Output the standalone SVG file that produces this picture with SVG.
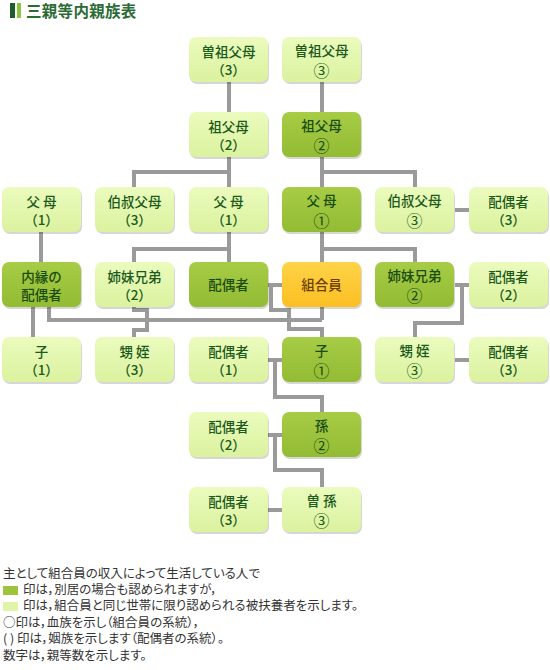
<svg xmlns="http://www.w3.org/2000/svg" width="550" height="670" viewBox="0 0 550 670">
<defs>
<linearGradient id="gl" x1="0" y1="0" x2="0" y2="1"><stop offset="0" stop-color="#ebfbbd"/><stop offset="1" stop-color="#dbf29f"/></linearGradient>
<linearGradient id="gd" x1="0" y1="0" x2="0" y2="1"><stop offset="0" stop-color="#a7cc46"/><stop offset="1" stop-color="#93bb33"/></linearGradient>
<linearGradient id="go" x1="0" y1="0" x2="0" y2="1"><stop offset="0" stop-color="#ffd349"/><stop offset="1" stop-color="#fbbf22"/></linearGradient>
<style>
.sh{fill:#000;opacity:.16}
.l .b{fill:url(#gl)}
.d .b{fill:url(#gd)}
.o .b{fill:url(#go)}
text{font-family:"Noto Sans CJK JP","Noto Sans",sans-serif;text-anchor:middle}
.n text{font-size:13.5px;font-weight:500;fill:#1d5a1d}
.d text{fill:#194d12}
.o text{fill:#6a3f00}
.n .c{font-size:16px;font-weight:normal}
#conn path{fill:none;stroke:#9a9a9a;stroke-width:4}
.lg{font-size:12.5px;fill:#333;text-anchor:start;font-feature-settings:"palt"}
</style>
</defs>
<rect width="550" height="670" fill="#fff"/>
<g id="title">
<rect x="10" y="3" width="5" height="15" fill="#1e5e2c"/>
<rect x="17" y="3" width="4" height="15" fill="#8cc63f"/>
<text x="26" y="17" style="text-anchor:start;font-size:15.5px;font-weight:bold;fill:#2b6b34;letter-spacing:0.3px">三親等内親族表</text>
</g>
<g id="conn">
<path d="M229,82V112"/>
<path d="M322,82V112"/>
<path d="M229,157V187M229,172H134V187"/>
<path d="M322,157V187M322,172H415V187"/>
<path d="M455,210H469"/>
<path d="M41,232V262"/>
<path d="M229,232V262M229,249H134V262"/>
<path d="M322,232V262M322,249H415V262"/>
<path d="M268,285H282"/>
<path d="M455,285H469M462,285V323H415V337"/>
<path d="M33,307V337"/>
<path d="M49,307V320H322M322,307V320"/>
<path d="M134,307V310H147V330H134V337"/>
<path d="M271,285V310H289V329H322V337"/>
<path d="M268,360H282M275,360V397H322V412"/>
<path d="M455,360H469"/>
<path d="M268,435H282M275,435V470H322V487"/>
<path d="M268,510H282"/>
</g>
<g id="n-sosofubo3" class="n l"><rect class="sh" x="190" y="39" width="79" height="45" rx="7"/><rect class="b" x="189" y="37" width="79" height="45" rx="7"/><text x="228.5" y="57">曽祖父母</text><text x="228.5" y="75">（3）</text></g>
<g id="n-sosofubo-3" class="n l"><rect class="sh" x="283" y="39" width="79" height="45" rx="7"/><rect class="b" x="282" y="37" width="79" height="45" rx="7"/><text x="321.5" y="56">曽祖父母</text><text class="c" x="321.5" y="77">③</text></g>
<g id="n-sofubo2" class="n l"><rect class="sh" x="190" y="114" width="79" height="45" rx="7"/><rect class="b" x="189" y="112" width="79" height="45" rx="7"/><text x="228.5" y="132">祖父母</text><text x="228.5" y="150">（2）</text></g>
<g id="n-sofubo-2" class="n d"><rect class="sh" x="283" y="114" width="79" height="45" rx="7"/><rect class="b" x="282" y="112" width="79" height="45" rx="7"/><text x="321.5" y="131">祖父母</text><text class="c" x="321.5" y="152">②</text></g>
<g id="n-fubo1a" class="n l"><rect class="sh" x="3" y="189" width="79" height="45" rx="7"/><rect class="b" x="2" y="187" width="79" height="45" rx="7"/><text x="41.5" y="207">父 母</text><text x="41.5" y="225">（1）</text></g>
<g id="n-oji3" class="n l"><rect class="sh" x="96" y="189" width="79" height="45" rx="7"/><rect class="b" x="95" y="187" width="79" height="45" rx="7"/><text x="134.5" y="207">伯叔父母</text><text x="134.5" y="225">（3）</text></g>
<g id="n-fubo1b" class="n l"><rect class="sh" x="190" y="189" width="79" height="45" rx="7"/><rect class="b" x="189" y="187" width="79" height="45" rx="7"/><text x="228.5" y="207">父 母</text><text x="228.5" y="225">（1）</text></g>
<g id="n-fubo-1" class="n d"><rect class="sh" x="283" y="189" width="79" height="45" rx="7"/><rect class="b" x="282" y="187" width="79" height="45" rx="7"/><text x="321.5" y="206">父 母</text><text class="c" x="321.5" y="227">①</text></g>
<g id="n-oji-3" class="n l"><rect class="sh" x="376" y="189" width="79" height="45" rx="7"/><rect class="b" x="375" y="187" width="79" height="45" rx="7"/><text x="414.5" y="206">伯叔父母</text><text class="c" x="414.5" y="227">③</text></g>
<g id="n-haigu3a" class="n l"><rect class="sh" x="470" y="189" width="79" height="45" rx="7"/><rect class="b" x="469" y="187" width="79" height="45" rx="7"/><text x="508.5" y="207">配偶者</text><text x="508.5" y="225">（3）</text></g>
<g id="n-naien" class="n d"><rect class="sh" x="3" y="264" width="79" height="45" rx="7"/><rect class="b" x="2" y="262" width="79" height="45" rx="7"/><text x="41.5" y="282">内縁の</text><text x="41.5" y="300">配偶者</text></g>
<g id="n-kyodai2" class="n l"><rect class="sh" x="96" y="264" width="79" height="45" rx="7"/><rect class="b" x="95" y="262" width="79" height="45" rx="7"/><text x="134.5" y="282">姉妹兄弟</text><text x="134.5" y="300">（2）</text></g>
<g id="n-haigu" class="n d"><rect class="sh" x="190" y="264" width="79" height="45" rx="7"/><rect class="b" x="189" y="262" width="79" height="45" rx="7"/><text x="228.5" y="290">配偶者</text></g>
<g id="n-kumiai" class="n o"><rect class="sh" x="283" y="264" width="79" height="45" rx="7"/><rect class="b" x="282" y="262" width="79" height="45" rx="7"/><text x="321.5" y="290">組合員</text></g>
<g id="n-kyodai-2" class="n d"><rect class="sh" x="376" y="264" width="79" height="45" rx="7"/><rect class="b" x="375" y="262" width="79" height="45" rx="7"/><text x="414.5" y="281">姉妹兄弟</text><text class="c" x="414.5" y="302">②</text></g>
<g id="n-haigu2a" class="n l"><rect class="sh" x="470" y="264" width="79" height="45" rx="7"/><rect class="b" x="469" y="262" width="79" height="45" rx="7"/><text x="508.5" y="282">配偶者</text><text x="508.5" y="300">（2）</text></g>
<g id="n-ko1" class="n l"><rect class="sh" x="3" y="339" width="79" height="45" rx="7"/><rect class="b" x="2" y="337" width="79" height="45" rx="7"/><text x="41.5" y="357">子</text><text x="41.5" y="375">（1）</text></g>
<g id="n-oimei3" class="n l"><rect class="sh" x="96" y="339" width="79" height="45" rx="7"/><rect class="b" x="95" y="337" width="79" height="45" rx="7"/><text x="134.5" y="357">甥 姪</text><text x="134.5" y="375">（3）</text></g>
<g id="n-haigu1" class="n l"><rect class="sh" x="190" y="339" width="79" height="45" rx="7"/><rect class="b" x="189" y="337" width="79" height="45" rx="7"/><text x="228.5" y="357">配偶者</text><text x="228.5" y="375">（1）</text></g>
<g id="n-ko-1" class="n d"><rect class="sh" x="283" y="339" width="79" height="45" rx="7"/><rect class="b" x="282" y="337" width="79" height="45" rx="7"/><text x="321.5" y="356">子</text><text class="c" x="321.5" y="377">①</text></g>
<g id="n-oimei-3" class="n l"><rect class="sh" x="376" y="339" width="79" height="45" rx="7"/><rect class="b" x="375" y="337" width="79" height="45" rx="7"/><text x="414.5" y="356">甥 姪</text><text class="c" x="414.5" y="377">③</text></g>
<g id="n-haigu3b" class="n l"><rect class="sh" x="470" y="339" width="79" height="45" rx="7"/><rect class="b" x="469" y="337" width="79" height="45" rx="7"/><text x="508.5" y="357">配偶者</text><text x="508.5" y="375">（3）</text></g>
<g id="n-haigu2b" class="n l"><rect class="sh" x="190" y="414" width="79" height="45" rx="7"/><rect class="b" x="189" y="412" width="79" height="45" rx="7"/><text x="228.5" y="432">配偶者</text><text x="228.5" y="450">（2）</text></g>
<g id="n-mago-2" class="n d"><rect class="sh" x="283" y="414" width="79" height="45" rx="7"/><rect class="b" x="282" y="412" width="79" height="45" rx="7"/><text x="321.5" y="431">孫</text><text class="c" x="321.5" y="452">②</text></g>
<g id="n-haigu3c" class="n l"><rect class="sh" x="190" y="489" width="79" height="45" rx="7"/><rect class="b" x="189" y="487" width="79" height="45" rx="7"/><text x="228.5" y="507">配偶者</text><text x="228.5" y="525">（3）</text></g>
<g id="n-himago-3" class="n l"><rect class="sh" x="283" y="489" width="79" height="45" rx="7"/><rect class="b" x="282" y="487" width="79" height="45" rx="7"/><text x="321.5" y="506">曽 孫</text><text class="c" x="321.5" y="527">③</text></g>
<g id="legend">
<text class="lg" x="3" y="578">主として組合員の収入によって生活している人で</text>
<rect x="3" y="586" width="15" height="9" fill="#9dc43b"/>
<text class="lg" x="23" y="594">印は，別居の場合も認められますが，</text>
<rect x="3" y="602" width="15" height="9" fill="#e0f5a8"/>
<text class="lg" x="23" y="610">印は，組合員と同じ世帯に限り認められる被扶養者を示します。</text>
<text class="lg" x="3" y="627">○印は，血族を示し（組合員の系統），</text>
<text class="lg" x="3" y="643">( ) 印は，姻族を示します（配偶者の系統）。</text>
<text class="lg" x="3" y="660">数字は，親等数を示します。</text>
</g>
</svg>
